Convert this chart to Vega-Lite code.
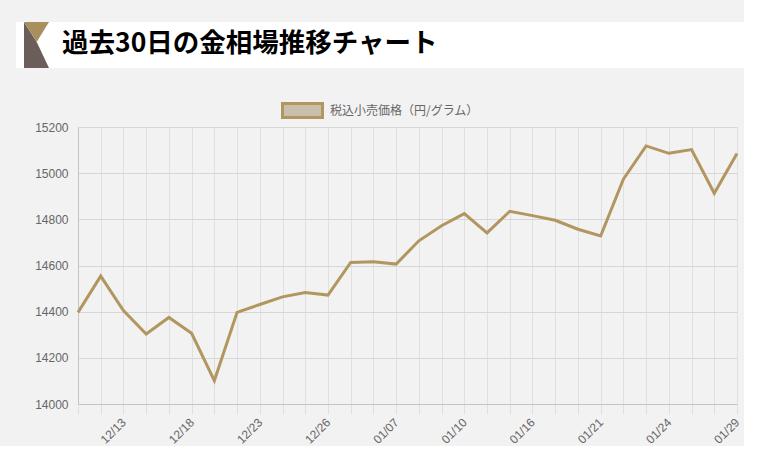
{
  "$schema": "https://vega.github.io/schema/vega-lite/v6.json",
  "width": 659,
  "height": 277,
  "padding": {"left": 16, "top": 22, "right": 0, "bottom": 0},
  "background": "#f2f2f2",
  "config": {
    "view": {"stroke": null},
    "font": "Liberation Sans"
  },
  "data": {
    "values": [
      {"date": "12/11", "price": 14397},
      {"date": "12/12", "price": 14554},
      {"date": "12/13", "price": 14405},
      {"date": "12/16", "price": 14303},
      {"date": "12/17", "price": 14375},
      {"date": "12/18", "price": 14306},
      {"date": "12/19", "price": 14101},
      {"date": "12/20", "price": 14397},
      {"date": "12/23", "price": 14431},
      {"date": "12/24", "price": 14464},
      {"date": "12/25", "price": 14483},
      {"date": "12/26", "price": 14472},
      {"date": "12/27", "price": 14613},
      {"date": "01/06", "price": 14616},
      {"date": "01/07", "price": 14606},
      {"date": "01/08", "price": 14707},
      {"date": "01/09", "price": 14772},
      {"date": "01/10", "price": 14825},
      {"date": "01/14", "price": 14741},
      {"date": "01/15", "price": 14835},
      {"date": "01/16", "price": 14816},
      {"date": "01/17", "price": 14796},
      {"date": "01/20", "price": 14757},
      {"date": "01/21", "price": 14728},
      {"date": "01/22", "price": 14974},
      {"date": "01/23", "price": 15118},
      {"date": "01/24", "price": 15086},
      {"date": "01/27", "price": 15102},
      {"date": "01/28", "price": 14913},
      {"date": "01/29", "price": 15085}
    ]
  },
  "layer": [
    {
      "data": {"values": [{}]},
      "mark": {"type": "rect", "fill": "#ffffff", "strokeWidth": 0},
      "encoding": {
        "x": {"value": -62},
        "x2": {"value": 666},
        "y": {"value": -105},
        "y2": {"value": -59}
      }
    },
    {
      "data": {"values": [{}]},
      "mark": {"type": "point", "filled": true, "fill": "#6b5e5a", "opacity": 1, "strokeWidth": 0, "size": 2116,
        "shape": "M-0.543,-1L0.009,-0.13L0.543,1L-0.543,1Z"},
      "encoding": {"x": {"value": -41.5}, "y": {"value": -82}}
    },
    {
      "data": {"values": [{}]},
      "mark": {"type": "point", "filled": true, "fill": "#a8905e", "opacity": 1, "strokeWidth": 0, "size": 2116,
        "shape": "M-0.543,-1L0.543,-1L0.009,-0.13Z"},
      "encoding": {"x": {"value": -41.5}, "y": {"value": -82}}
    },
    {
      "data": {"values": [{}]},
      "mark": {"type": "text", "text": "過去30日の金相場推移チャート", "font": "Noto Sans CJK JP", "fontSize": 26.5, "fontWeight": "bold", "fill": "#000000", "align": "left", "baseline": "middle"},
      "encoding": {"x": {"value": -16}, "y": {"value": -83}}
    },
    {
      "mark": {"type": "line", "strokeWidth": 3, "interpolate": "linear"},
      "encoding": {
        "x": {
          "field": "date", "type": "ordinal", "sort": null,
          "scale": {"type": "point", "padding": 0},
          "axis": {
            "title": null,
            "grid": true, "gridColor": "#e0e0e0", "gridWidth": 1,
            "ticks": true, "tickSize": 10, "tickColor": "#e0e0e0",
            "domain": true, "domainColor": "#c4c4c4",
            "labelAngle": -45, "labelAlign": "right", "labelBaseline": "middle",
            "labelPadding": 6, "labelFont": "Liberation Sans", "labelFontSize": 12, "labelColor": "#666666",
            "labelOverlap": false, "labelBound": false,
            "labelExpr": "indexof(['12/13','12/18','12/23','12/26','01/07','01/10','01/16','01/21','01/24','01/29'], datum.value) >= 0 ? datum.value : ''"
          }
        },
        "y": {
          "field": "price", "type": "quantitative",
          "scale": {"domain": [14000, 15200], "nice": false, "zero": false},
          "axis": {
            "title": null, "format": "d",
            "values": [14000, 14200, 14400, 14600, 14800, 15000, 15200],
            "grid": true, "gridColor": "#d6d6d6",
            "ticks": false, "domain": true, "domainColor": "#c4c4c4",
            "labelPadding": 10, "labelFont": "Liberation Sans", "labelFontSize": 12, "labelColor": "#666666"
          }
        },
        "color": {
          "datum": "税込小売価格（円/グラム）",
          "type": "nominal",
          "scale": {"range": ["#b2965f"]},
          "legend": {
            "title": null,
            "orient": "none",
            "legendX": 203,
            "legendY": -38,
            "padding": 0,
            "labelFont": "Noto Sans CJK JP",
            "labelFontSize": 12,
            "labelColor": "#666666",
            "labelOffset": 6,
            "symbolType": "M-1,-0.35H1V0.35H-1Z",
            "symbolSize": 1600,
            "symbolStrokeWidth": 3,
            "symbolFillColor": "#c9bfac",
            "symbolStrokeColor": "#b2965f",
            "encode": {
              "symbols": {"update": {"fill": {"value": "#c9bfac"}, "stroke": {"value": "#b2965f"}, "strokeWidth": {"value": 3}, "opacity": {"value": 1}}}
            }
          }
        }
      }
    }
  ]
}
